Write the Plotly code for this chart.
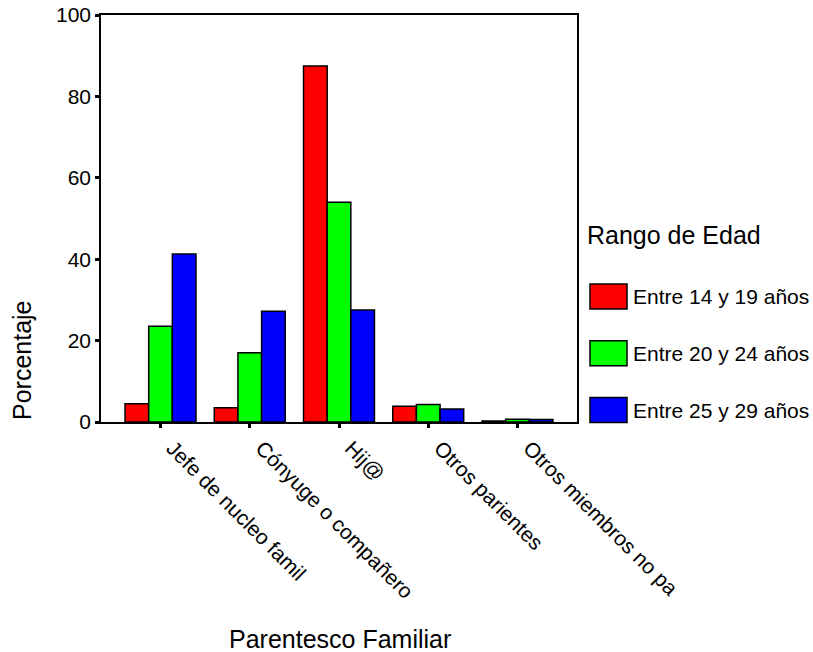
import plotly.graph_objects as go

categories = ["Jefe de nucleo famil", "Cónyuge o compañero", "Hij@",
              "Otros parientes", "Otros miembros no pa"]
series_names = ["Entre 14 y 19 años", "Entre 20 y 24 años", "Entre 25 y 29 años"]
vals_14_19 = [4.5, 3.5, 87.5, 3.9, 0.25]
vals_20_24 = [23.5, 17.0, 54.0, 4.3, 0.65]
vals_25_29 = [41.3, 27.2, 27.5, 3.2, 0.6]
y_ticks = [0, 20, 40, 60, 80, 100]
colors = ["#ff0000", "#00ff00", "#0000ff"]

FONT = "Arial, Liberation Sans, sans-serif"
W, H = 813, 652
L, R, T, B = 101, 236, 15, 230
pw, ph = W - L - R, H - T - B

def px_x(px):
    return (px - L) / pw

def px_y(py):
    return (H - B - py) / ph

fig = go.Figure()
for name, vals, col in zip(series_names, [vals_14_19, vals_20_24, vals_25_29], colors):
    fig.add_trace(go.Bar(x=categories, y=vals, name=name, showlegend=False,
                         marker=dict(color=col, line=dict(color="black", width=1.5))))

# custom legend (large swatches as in the reference)
shapes = []
annotations = []
annotations.append(dict(text="Rango de Edad", x=px_x(585), y=px_y(235), xref="paper", yref="paper",
                        xanchor="left", yanchor="middle", showarrow=False,
                        font=dict(family=FONT, size=25, color="black")))
for i, (name, col) in enumerate(zip(series_names, colors)):
    cy = 296.5 + 56.75 * i
    shapes.append(dict(type="rect", xref="paper", yref="paper",
                       x0=px_x(590), x1=px_x(627), y0=px_y(cy + 12.5), y1=px_y(cy - 12.5),
                       fillcolor=col, line=dict(color="black", width=1.5)))
    annotations.append(dict(text=name, x=px_x(631), y=px_y(cy), xref="paper", yref="paper",
                            xanchor="left", yanchor="middle", showarrow=False,
                            font=dict(family=FONT, size=21, color="black")))

annotations.append(dict(text="Porcentaje", x=px_x(22), y=px_y(360), xref="paper", yref="paper",
                        xanchor="center", yanchor="middle", textangle=-90, showarrow=False,
                        font=dict(family=FONT, size=25, color="black")))
annotations.append(dict(text="Parentesco Familiar", x=px_x(340), y=px_y(639), xref="paper", yref="paper",
                        xanchor="center", yanchor="middle", showarrow=False,
                        font=dict(family=FONT, size=25, color="black")))

fig.update_layout(
    width=W, height=H,
    margin=dict(l=L, r=R, t=T, b=B, autoexpand=False),
    paper_bgcolor="white", plot_bgcolor="white",
    barmode="group", bargap=0.205, bargroupgap=0,
    font=dict(family=FONT, size=21, color="black"),
    shapes=shapes, annotations=annotations,
    xaxis=dict(type="category", range=[-0.667, 4.667], showgrid=False, zeroline=False,
               showline=True, linecolor="black", linewidth=1.5, mirror=True,
               ticks="outside", ticklen=4, tickwidth=2.5, tickcolor="black",
               tickangle=45, ticklabelshift=12,
               tickfont=dict(family=FONT, size=21, color="black")),
    yaxis=dict(range=[0, 100], tickvals=y_ticks, showgrid=False, zeroline=False,
               showline=True, linecolor="black", linewidth=1.5, mirror=True,
               ticks="outside", ticklen=4, tickwidth=2.5, tickcolor="black",
               tickfont=dict(family=FONT, size=21, color="black")),
)

fig.write_html("out.html", config={"displayModeBar": False},
               post_script="document.body.style.margin='0';document.body.style.padding='0';")
